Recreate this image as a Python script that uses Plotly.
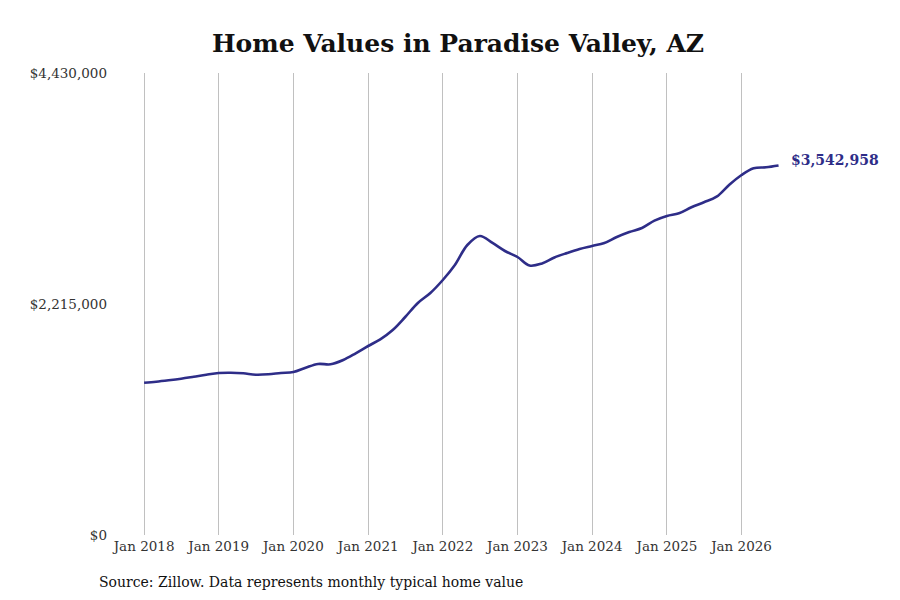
import pandas as pd
import plotly.graph_objects as go

# bimonthly readings (Jan, Mar, May, Jul, Sep, Nov)
dates = pd.date_range("2018-01-01", "2026-07-01", freq="2MS")
values = [
    1460400, 1470000, 1483400, 1498800, 1517900, 1537100,  # 2018
    1553400, 1556300, 1550500, 1537100, 1540900, 1553400,  # 2019
    1563000, 1604200, 1639700, 1636800, 1678100, 1742300,  # 2020
    1812300, 1876300, 1965700, 2090400, 2224600, 2320500,  # 2021
    2445200, 2589000, 2780800, 2867100, 2800000, 2723300,  # 2022
    2665700, 2584200, 2603400, 2661000, 2704100, 2742500,  # 2023
    2771200, 2800000, 2857500, 2905500, 2943800, 3013800,  # 2024
    3058900, 3084500, 3142300, 3190200, 3244000, 3356200,  # 2025
    3452000, 3516000, 3525600, 3542958,                    # 2026
]
x_ticks = pd.date_range("2018-01-01", "2026-01-01", freq="YS")
x_labels = [d.strftime("Jan %Y") for d in x_ticks]
y_ticks = [0, 2215000, 4430000]
y_labels = ["$0", "$2,215,000", "$4,430,000"]

line_color = "#2e2d88"
font = "DejaVu Serif"

fig = go.Figure()
fig.add_trace(go.Scatter(
    x=dates, y=values, mode="lines",
    line=dict(color=line_color, width=2.6, shape="spline", smoothing=1.0),
    hoverinfo="skip", showlegend=False,
))

fig.add_annotation(
    x=dates[-1], y=values[-1], text=f"<b>${values[-1]:,}</b>",
    xanchor="left", yanchor="middle", xshift=10, yshift=6, showarrow=False,
    font=dict(family=font, size=14, color=line_color),
)
fig.add_annotation(
    xref="paper", yref="paper", x=-0.022, y=-0.1017, xanchor="left", yanchor="middle",
    text="Source: Zillow. Data represents monthly typical home value", showarrow=False,
    font=dict(family=font, size=14, color="#111"),
)

# page body has an 8px margin, so the figure is nudged up/left
fig.update_layout(
    width=900, height=600,
    margin=dict(l=104, r=118, t=65, b=73),
    paper_bgcolor="white", plot_bgcolor="white",
    font=dict(family=font, size=13.5, color="#333"),
    title=dict(text="<b>Home Values in Paradise Valley, AZ</b>", x=0.5, xanchor="center",
               y=0.9417, yanchor="middle", font=dict(family=font, size=25, color="#111")),
)
fig.update_xaxes(
    range=["2017-07-28", "2026-08-26"], tickvals=x_ticks, ticktext=x_labels,
    showgrid=True, gridcolor="#c0c0c0", gridwidth=1, zeroline=False, showline=False,
    ticks="", ticklabelstandoff=1,
)
fig.update_yaxes(
    range=[0, 4430000], tickvals=y_ticks, ticktext=y_labels,
    showgrid=False, zeroline=False, showline=False, ticks="", ticklabelstandoff=4,
)

fig.write_html("out.html")
